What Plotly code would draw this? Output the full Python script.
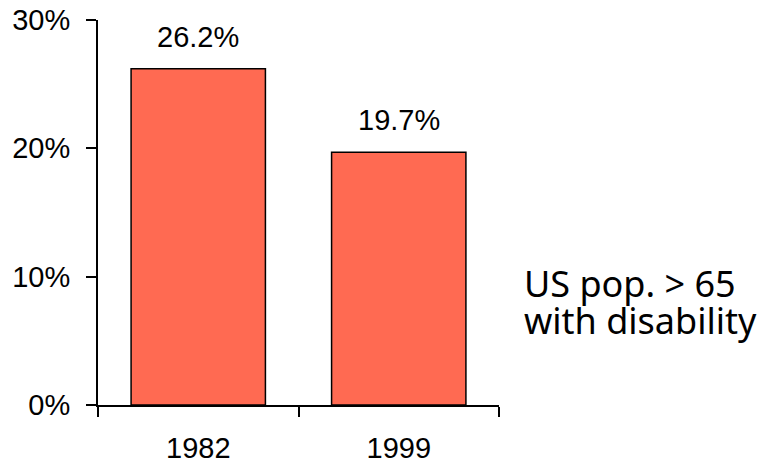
import plotly.graph_objects as go

years = ["1982", "1999"]
values = [26.2, 19.7]
labels = ["26.2%", "19.7%"]
y_ticks = [0, 10, 20, 30]
y_tick_labels = ["0%", "10%", "20%", "30%"]
note_lines = ["US pop. > 65", "with disability"]

FONT = "Liberation Sans, Arial"

fig = go.Figure()
fig.add_trace(go.Bar(
    x=years, y=values,
    marker=dict(color="#FF6A52", line=dict(color="black", width=1.5)),
    hoverinfo="skip",
))
# category index positions for value labels
for i, (v, lab) in enumerate(zip(values, labels)):
    fig.add_annotation(
        x=i, y=v, xref="x", yref="y", text=lab, showarrow=False,
        xanchor="center", yanchor="bottom",
        yshift=14, font=dict(family=FONT, size=29, color="black"),
    )
fig.update_layout(
    width=766, height=463,
    margin=dict(l=98, r=267, t=20, b=58),
    plot_bgcolor="white", paper_bgcolor="white",
    showlegend=False,
    bargap=0.33,
    font=dict(family=FONT, size=29, color="black"),
    xaxis=dict(
        type="category", range=[-0.5, 1.5],
        showline=True, linecolor="black", linewidth=2,
        ticks="outside", tickson="boundaries", ticklen=10, tickwidth=2, tickcolor="black",
        showgrid=False, ticklabelstandoff=16, automargin=False,
        tickfont=dict(family=FONT, size=29),
    ),
    yaxis=dict(
        range=[0, 30], tickvals=y_ticks, ticktext=y_tick_labels,
        showline=True, linecolor="black", linewidth=2,
        ticks="outside", ticklen=10, tickwidth=2, tickcolor="black",
        showgrid=False, zeroline=False, ticklabelstandoff=10, automargin=False,
        tickfont=dict(family=FONT, size=29),
    ),
)
for i, line in enumerate(note_lines):
    fig.add_annotation(
        text=line, xref="paper", yref="y", x=1.058, y=9.5 - 2.88 * i,
        xanchor="left", yanchor="middle", align="left", showarrow=False,
        font=dict(family="Noto Sans", size=36, color="black"),
    )
fig.write_html("out.html")
